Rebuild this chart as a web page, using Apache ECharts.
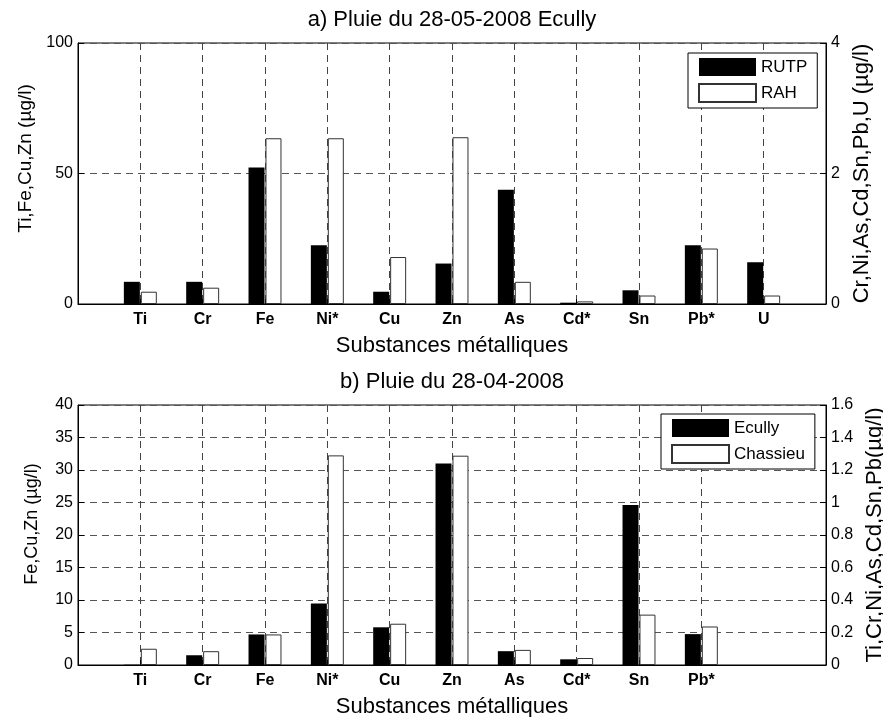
<!DOCTYPE html>
<html>
<head>
<meta charset="utf-8">
<script src="https://cdn.jsdelivr.net/npm/echarts@6/dist/echarts.min.js"></script>
<style>
  html, body { margin: 0; padding: 0; background: #fff; }
  #chart { width: 883px; height: 717px; }
</style>
</head>
<body>
<div id="chart"></div>
<script>
var myChart = echarts.init(document.getElementById('chart'));

// a) Pluie du 28-05-2008 Ecully
var catsA = ['Ti', 'Cr', 'Fe', 'Ni*', 'Cu', 'Zn', 'As', 'Cd*', 'Sn', 'Pb*', 'U'];
// metals read on the left axis (µg/l), others on the right axis
var leftA = ['Ti', 'Fe', 'Cu', 'Zn'];
var rutp = [8.5, 0.34, 52.3, 0.9, 4.7, 15.5, 1.75, 0.02, 0.21, 0.9, 0.64];
var rah = [4.7, 0.25, 63.5, 2.54, 18, 63.9, 0.34, 0.04, 0.13, 0.85, 0.13];

// b) Pluie du 28-04-2008
var catsB = ['Ti', 'Cr', 'Fe', 'Ni*', 'Cu', 'Zn', 'As', 'Cd*', 'Sn', 'Pb*'];
var leftB = ['Fe', 'Cu', 'Zn'];
var ecully = [0.002, 0.06, 4.7, 0.378, 5.8, 31.0, 0.085, 0.035, 0.985, 0.19];
var chassieu = [0.10, 0.085, 4.7, 1.29, 6.35, 32.2, 0.093, 0.043, 0.31, 0.237];

var leftMaxA = 100, rightMaxA = 4;
var leftMaxB = 40, rightMaxB = 1.6;

// 12 slots on the x axis, categories sit on 1..n
function padCats(cats) {
  var out = [''];
  for (var i = 0; i < cats.length; i++) out.push(cats[i]);
  while (out.length < 13) out.push('');
  return out;
}
// right-axis values are drawn in left-axis units
function toLeft(vals, cats, leftSet, lmax, rmax) {
  var out = [null];
  for (var i = 0; i < vals.length; i++) {
    out.push(leftSet.indexOf(cats[i]) >= 0 ? vals[i] : vals[i] * lmax / rmax);
  }
  while (out.length < 13) out.push(null);
  return out;
}

var font = 'Liberation Sans, Arial, Helvetica, sans-serif';
var notEmpty = function (i, v) { return v !== ''; };

function xAxisFor(gridIndex, cats) {
  return {
    type: 'category',
    gridIndex: gridIndex,
    data: padCats(cats),
    boundaryGap: false,
    name: 'Substances métalliques',
    nameLocation: 'middle',
    nameGap: 31,
    nameTextStyle: { fontFamily: font, fontSize: 22, color: '#000' },
    axisLine: { lineStyle: { color: '#000', width: 1 } },
    axisTick: { inside: true, length: 5, interval: notEmpty, lineStyle: { color: '#000' } },
    axisLabel: { interval: notEmpty, fontFamily: font, fontSize: 16, fontWeight: 'bold', color: '#000', margin: 8 },
    splitLine: { show: true, interval: notEmpty, lineStyle: { color: '#444', type: [7, 5], width: 1 } }
  };
}

function yAxisFor(gridIndex, pos, max, interval, name, gap, nameSize, grid, padding) {
  return {
    type: 'value',
    gridIndex: gridIndex,
    position: pos,
    min: 0,
    max: max,
    interval: interval,
    name: name,
    nameLocation: 'middle',
    nameRotate: 90,
    nameGap: gap,
    nameTextStyle: { fontFamily: font, fontSize: nameSize, color: '#000', padding: padding || 0 },
    axisLine: { show: true, lineStyle: { color: '#000', width: 1 } },
    axisTick: { show: true, inside: true, length: 6, lineStyle: { color: '#000' } },
    axisLabel: { fontFamily: font, fontSize: 16, color: '#000', margin: 5 },
    splitLine: { show: grid, lineStyle: { color: '#555', type: [7, 5], width: 1 } }
  };
}

function legendFor(names, left, top) {
  return {
    data: names,
    orient: 'vertical',
    left: left,
    top: top,
    itemWidth: 57,
    itemHeight: 18,
    itemGap: 7,
    padding: [5, 10, 5, 10],
    borderColor: '#000',
    borderWidth: 1,
    backgroundColor: '#fff',
    icon: 'rect',
    textStyle: { fontFamily: font, fontSize: 17, color: '#000' }
  };
}

function barSeries(name, data, xi, yi, color) {
  return {
    name: name,
    type: 'bar',
    xAxisIndex: xi,
    yAxisIndex: yi,
    data: data,
    barWidth: 16,
    barGap: '6%',
    animation: false,
    itemStyle: { color: color, borderColor: color === '#000' ? '#000' : '#333', borderWidth: color === '#000' ? 0 : 1 }
  };
}

var option = {
  animation: false,
  title: [
    { text: 'a) Pluie du 28-05-2008 Ecully', left: 452, top: 9, padding: 0, textAlign: 'center',
      textStyle: { fontFamily: font, fontSize: 22, fontWeight: 'normal', color: '#000' } },
    { text: 'b) Pluie du 28-04-2008', left: 452, top: 371, padding: 0, textAlign: 'center',
      textStyle: { fontFamily: font, fontSize: 22, fontWeight: 'normal', color: '#000' } }
  ],
  legend: [legendFor(['RUTP', 'RAH'], 688, 53), legendFor(['Ecully', 'Chassieu'], 661, 414)],
  grid: [
    { left: 78, right: 57, top: 43, height: 261, show: true, borderColor: '#000', borderWidth: 1, outerBoundsMode: 'none' },
    { left: 78, right: 57, top: 405, height: 260, show: true, borderColor: '#000', borderWidth: 1, outerBoundsMode: 'none' }
  ],
  xAxis: [xAxisFor(0, catsA), xAxisFor(1, catsB)],
  yAxis: [
    yAxisFor(0, 'left', leftMaxA, 50, 'Ti,Fe,Cu,Zn (µg/l)', 42, 19, true, [0, 0, 0, 30]),
    yAxisFor(0, 'right', rightMaxA, 2, 'Cr,Ni,As,Cd,Sn,Pb,U (µg/l)', 21, 22, false),
    yAxisFor(1, 'left', leftMaxB, 5, 'Fe,Cu,Zn (µg/l)', 37, 18, true, [0, 0, 0, 22]),
    yAxisFor(1, 'right', rightMaxB, 0.2, 'Ti,Cr,Ni,As,Cd,Sn,Pb(µg/l)', 35, 22, false)
  ],
  series: [
    barSeries('RUTP', toLeft(rutp, catsA, leftA, leftMaxA, rightMaxA), 0, 0, '#000'),
    barSeries('RAH', toLeft(rah, catsA, leftA, leftMaxA, rightMaxA), 0, 0, '#fff'),
    barSeries('Ecully', toLeft(ecully, catsB, leftB, leftMaxB, rightMaxB), 1, 2, '#000'),
    barSeries('Chassieu', toLeft(chassieu, catsB, leftB, leftMaxB, rightMaxB), 1, 2, '#fff')
  ]
};

myChart.setOption(option);
</script>
</body>
</html>
